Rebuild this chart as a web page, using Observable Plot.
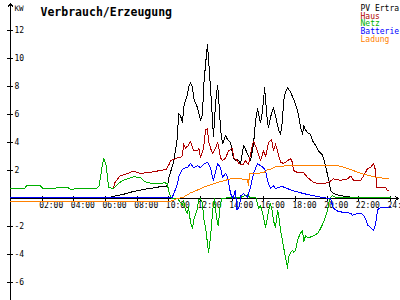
<!DOCTYPE html>
<html><head><meta charset="utf-8">
<script src="https://cdn.jsdelivr.net/npm/d3@7"></script>
<script src="https://cdn.jsdelivr.net/npm/@observablehq/plot@0.6"></script>
<style>html,body{margin:0;padding:0;background:#fff;overflow:hidden}</style>
</head><body><div id="chart"></div>
<script>
const titleText = "Verbrauch/Erzeugung";
const unitLabel = "KW";
const seriesNames = ["PV Ertra", "Haus", "Netz", "Batterie", "Ladung"];
const seriesColors = ["#000000", "#b00000", "#00b000", "#0000ff", "#ff8000"];
const xTicks = [2, 4, 6, 8, 10, 12, 14, 16, 18, 20, 22, 24];
const yTicks = [-6, -4, -2, 2, 4, 6, 8, 10, 12];

// [hour, kW]
const pvData = [[0,0],[6.0,0],[6.5,0.15],[7.14,0.3],[7.58,0.45],[8.02,0.55],[8.65,0.7],[9.03,0.75],[9.48,0.85],[9.92,0.9],[9.98,1.4],[10.11,1.9],[10.3,2.6],[10.42,3.45],[10.55,4.4],[10.61,6.1],[10.74,5.9],[10.87,5.4],[10.93,6.5],[11.05,7.0],[11.18,7.4],[11.24,7.9],[11.37,8.3],[11.5,7.9],[11.56,7.2],[11.69,6.8],[11.81,6.5],[12.0,5.6],[12.13,6.0],[12.19,7.9],[12.32,9.6],[12.44,11.0],[12.51,9.9],[12.63,7.9],[12.76,5.6],[12.82,4.4],[12.95,6.8],[13.08,8.1],[13.14,7.3],[13.27,4.9],[13.39,3.9],[13.58,4.5],[13.71,4.2],[13.9,4.0],[14.02,3.2],[14.09,2.9],[14.21,2.7],[14.34,2.8],[14.53,2.5],[14.72,3.8],[14.97,3.2],[15.16,2.7],[15.35,3.9],[15.48,5.6],[15.6,6.4],[15.79,5.4],[15.92,6.3],[16.05,7.9],[16.11,7.1],[16.23,5.4],[16.3,5.1],[16.42,5.8],[16.61,6.5],[16.8,5.6],[16.93,4.9],[17.06,4.6],[17.18,5.6],[17.25,7.0],[17.37,7.6],[17.5,7.9],[17.69,7.6],[17.88,7.1],[18.13,6.3],[18.32,5.1],[18.45,4.6],[18.51,5.2],[18.64,4.9],[18.76,4.7],[18.95,4.6],[19.08,4.1],[19.27,3.8],[19.46,3.4],[19.71,3.1],[19.84,2.6],[19.96,2.0],[20.09,1.4],[20.21,0.6],[20.4,0.35],[20.85,0.2],[21.48,0.1],[22.11,0.05],[22.74,0],[24,0]];

const hausData = [[0,0.7],[0.9,0.7],[1.0,0.9],[1.9,0.9],[2.05,0.7],[2.5,0.7],[3.2,0.8],[3.6,0.8],[3.8,0.65],[4.2,0.7],[5.4,0.7],[5.6,0.9],[5.8,2.4],[5.9,2.85],[6.05,2.3],[6.2,0.8],[6.5,0.7],[6.6,1.15],[6.9,1.6],[7.3,1.75],[7.77,1.95],[8.2,1.8],[8.7,1.85],[9.2,1.95],[9.5,2.0],[9.85,2.1],[10.0,2.4],[10.11,2.7],[10.55,2.9],[10.74,2.9],[10.87,3.1],[10.93,3.9],[11.05,3.6],[11.24,3.8],[11.37,4.1],[11.56,3.4],[11.81,3.4],[11.9,3.6],[12.0,2.9],[12.19,3.6],[12.32,4.9],[12.44,5.0],[12.51,4.1],[12.63,3.6],[12.76,3.2],[12.95,3.6],[13.08,4.0],[13.14,3.7],[13.27,2.9],[13.39,2.7],[13.58,2.9],[13.77,3.4],[14.02,3.6],[14.09,2.9],[14.34,2.7],[14.4,2.5],[14.66,2.4],[14.85,2.7],[15.03,2.4],[15.29,3.9],[15.35,4.1],[15.6,3.4],[15.79,2.7],[15.98,3.4],[16.11,3.0],[16.3,4.0],[16.49,4.2],[16.61,3.4],[16.74,3.9],[16.93,3.1],[17.06,2.6],[17.25,2.5],[17.5,2.7],[17.69,2.85],[17.8,2.6],[17.88,2.0],[18.13,1.85],[18.51,1.85],[18.76,1.5],[19.14,1.15],[19.46,1.05],[19.77,1.05],[20.09,1.15],[20.4,1.4],[20.85,1.3],[21.29,1.4],[21.48,1.6],[21.67,1.3],[22.11,1.3],[22.3,1.6],[22.55,2.15],[22.74,2.2],[22.93,2.5],[23.06,2.0],[23.12,0.8],[23.69,0.8],[23.82,0.55],[23.88,0.55]];

const netzData = [[0,0.7],[0.9,0.7],[1.0,0.9],[1.9,0.9],[2.05,0.7],[2.5,0.7],[3.2,0.8],[3.6,0.8],[3.8,0.65],[4.2,0.7],[5.4,0.7],[5.6,0.9],[5.8,2.4],[5.9,2.85],[6.05,2.3],[6.2,0.8],[6.5,0.7],[6.8,1.05],[7.1,1.3],[7.4,1.4],[7.8,1.55],[8.2,1.5],[8.5,1.2],[9.0,1.05],[9.5,1.05],[9.7,1.15],[9.9,1.05],[10.0,0.5],[10.1,0.2],[10.2,0],[10.55,0],[10.87,-0.5],[10.93,-0.15],[11.05,-0.85],[11.18,-1.1],[11.24,-0.6],[11.37,-1.7],[11.5,-2.15],[11.56,-1.6],[11.69,-1.1],[11.81,-0.7],[11.88,-0.1],[12.0,0],[12.13,-0.35],[12.19,-1.35],[12.32,-2.05],[12.44,-3.2],[12.51,-3.85],[12.63,-2.8],[12.7,-1.8],[12.82,-0.35],[12.89,0],[12.95,-0.85],[13.08,-1.8],[13.14,-1.95],[13.2,-0.85],[13.33,0],[13.7,0.05],[14.5,0.05],[14.66,0.15],[14.97,0.25],[15.16,0.05],[15.5,0.05],[15.6,-0.35],[15.67,-0.7],[15.79,-0.5],[15.98,-1.35],[16.11,-2.05],[16.23,-1.35],[16.3,-0.85],[16.42,-0.35],[16.55,-1.0],[16.61,-1.6],[16.74,-2.05],[16.87,-0.85],[16.93,-1.1],[17.06,-2.3],[17.18,-3.0],[17.25,-3.5],[17.37,-4.2],[17.5,-5.0],[17.56,-4.2],[17.69,-3.85],[17.81,-3.7],[17.88,-3.85],[18.0,-3.7],[18.13,-3.0],[18.19,-2.8],[18.32,-2.45],[18.45,-2.3],[18.51,-3.1],[18.64,-2.65],[18.76,-2.8],[18.95,-2.75],[19.14,-2.65],[19.39,-2.5],[19.58,-2.15],[19.77,-1.7],[20.03,-0.85],[20.09,-0.35],[20.21,0.05],[20.34,0.2],[20.6,0.05],[24,0.05]];

const batterieData = [[0,0.05],[10.2,0.05],[10.3,0.3],[10.55,1.05],[10.61,1.5],[10.74,1.85],[10.87,2.1],[11.05,2.2],[11.18,2.2],[11.37,2.5],[11.56,2.2],[11.81,2.35],[12.0,2.2],[12.19,2.45],[12.44,2.6],[12.63,2.2],[12.76,1.5],[12.82,1.3],[13.08,2.5],[13.27,2.2],[13.39,1.5],[13.58,1.8],[13.71,1.5],[13.9,0.35],[14.05,0.0],[14.2,0.6],[14.3,-0.8],[14.45,-0.6],[14.55,0.2],[14.72,0.35],[14.97,0.1],[15.16,0.8],[15.35,1.8],[15.6,2.5],[15.79,2.35],[15.98,2.2],[16.11,2.0],[16.23,1.3],[16.42,0.7],[16.61,0.9],[16.74,0.7],[16.93,0.8],[17.18,0.85],[17.5,0.7],[17.88,0.55],[18.51,0.35],[19.14,0.2],[19.77,0.05],[20.21,0],[20.4,-0.7],[20.66,-0.9],[21.04,-1.0],[21.48,-1.05],[21.6,-1.2],[21.92,-1.05],[22.11,-1.05],[22.3,-1.2],[22.43,-1.45],[22.55,-1.9],[22.74,-2.05],[22.93,-2.3],[23.06,-1.8],[23.18,-0.85],[23.25,-0.7],[23.5,-0.65],[24,-0.6]];

const ladungData = [[0,-0.2],[10.1,-0.2],[10.55,0],[10.93,0.1],[11.37,0.4],[11.8,0.6],[12.19,0.8],[13.08,1.15],[13.9,1.4],[14.53,1.4],[14.97,1.35],[15.03,0.95],[15.1,1.8],[15.6,1.8],[15.98,1.85],[16.23,2.05],[16.42,2.1],[16.8,2.3],[17.88,2.35],[19.0,2.35],[20.0,2.35],[20.66,2.35],[21.29,2.15],[22.11,1.8],[22.93,1.55],[23.88,1.4]];

const allSeries = [pvData, hausData, netzData, batterieData, ladungData];
const rows = allSeries.flatMap((arr, i) => arr.map(([h, v]) => ({h, v, s: seriesNames[i]})));

const yMin = -7.2857, yMax = 13.9286, xArrowEnd = 24.5;
const font = "DejaVu Sans Mono";
const fmt = h => String(h).padStart(2, "0") + ":00";

const marks = [
  // axes
  Plot.arrow([0], {x1: 0, x2: 0, y1: yMin, y2: yMax, headLength: 5, headAngle: 70, stroke: "black", strokeWidth: 1}),
  Plot.arrow([0], {x1: 0, x2: xArrowEnd, y1: 0, y2: 0, headLength: 5, headAngle: 70, stroke: "black", strokeWidth: 1}),
  Plot.ruleY(yTicks, {y: d => d, x1: -0.19, x2: 0.19, stroke: "black"}),
  Plot.ruleX(xTicks, {x: d => d, y1: -0.2, y2: 0.15, stroke: "black"}),
  Plot.text(yTicks, {x: 0, y: d => d, text: d => String(d), textAnchor: "start", dx: 4, fontSize: 8, fill: "black"}),
  Plot.text(xTicks, {x: d => d, y: 0, text: d => fmt(d), textAnchor: "start", dx: -3, dy: 6.5, fontSize: 8, fill: "black"}),
  Plot.text([unitLabel], {frameAnchor: "top-left", dx: 4, dy: 2.5, text: d => d, textAnchor: "start", fontSize: 7.5, fill: "black"}),
  Plot.text([titleText], {frameAnchor: "top-left", dx: 30, dy: 4.6, text: d => d, textAnchor: "start", fontSize: 11.5, fontWeight: "bold", fill: "black"}),
  // series
  Plot.line(rows, {x: "h", y: "v", z: "s", stroke: "s", strokeWidth: 1}),
  // legend
  ...seriesNames.map((n, i) => Plot.text([n], {frameAnchor: "top-left", dx: 350, dy: 1.5 + i * 7.9, text: d => d, textAnchor: "start", fontSize: 8, fill: seriesColors[i]}))
];

const chart = Plot.plot({
  width: 400, height: 300,
  marginLeft: 10, marginRight: 10, marginTop: 3, marginBottom: 0,
  style: {fontFamily: font, background: "#fff", overflow: "hidden", shapeRendering: "crispEdges"},
  x: {domain: [0, 24], axis: null},
  y: {domain: [yMin, yMax], axis: null},
  color: {domain: seriesNames, range: seriesColors},
  marks
});
document.getElementById("chart").append(chart);
</script>
</body></html>
